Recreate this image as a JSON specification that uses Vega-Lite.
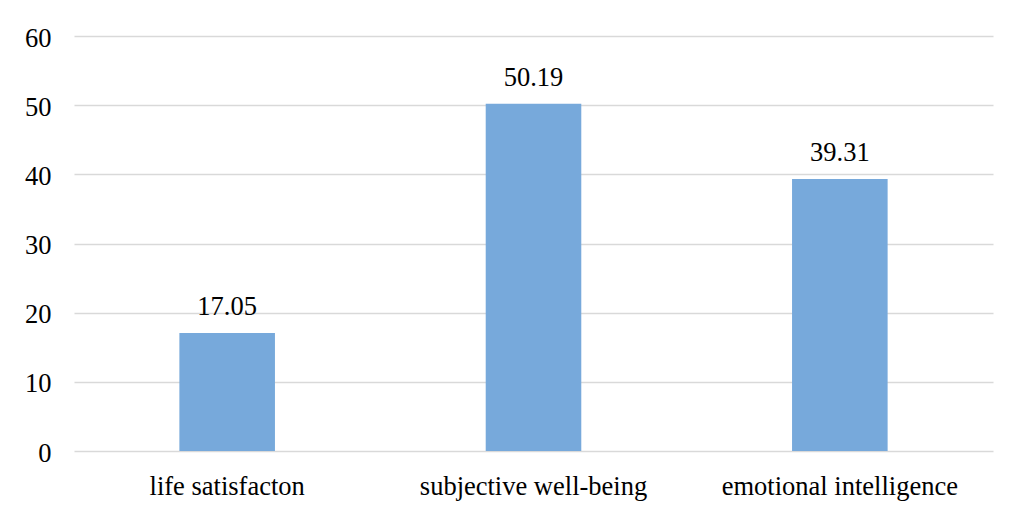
{
  "$schema": "https://vega.github.io/schema/vega-lite/v6.json",
  "width": 919,
  "height": 415,
  "autosize": {"type": "none"},
  "padding": {"left": 74, "top": 36, "right": 17, "bottom": 59},
  "background": "white",
  "config": {
    "view": {"stroke": null},
    "font": "Times New Roman, Liberation Serif, serif",
    "axis": {"labelFont": "Times New Roman, Liberation Serif, serif", "labelColor": "black", "gridColor": "#d9d9d9", "gridWidth": 1.3, "domain": false, "ticks": false, "labelLimit": 0}
  },
  "data": {
    "values": [
      {"measure": "life satisfacton", "score": 17.05},
      {"measure": "subjective well-being", "score": 50.19},
      {"measure": "emotional intelligence", "score": 39.31}
    ]
  },
  "encoding": {
    "x": {
      "field": "measure",
      "type": "nominal",
      "sort": null,
      "scale": {"paddingInner": 0.688, "paddingOuter": 0.344},
      "axis": {"title": null, "labelAngle": 0, "labelFontSize": 26.5, "labelPadding": 22, "grid": false}
    },
    "y": {
      "field": "score",
      "type": "quantitative",
      "scale": {"domain": [0, 60]},
      "axis": {"title": null, "values": [0, 10, 20, 30, 40, 50, 60], "labelFontSize": 26.5, "labelPadding": 23, "labelOffset": 2}
    }
  },
  "layer": [
    {"mark": {"type": "bar", "color": "#77a9db"}},
    {
      "mark": {"type": "text", "baseline": "alphabetic", "dy": -18, "fontSize": 26.5, "color": "black", "font": "Times New Roman, Liberation Serif, serif"},
      "encoding": {"text": {"field": "score", "type": "quantitative", "format": ".2f"}}
    }
  ]
}
